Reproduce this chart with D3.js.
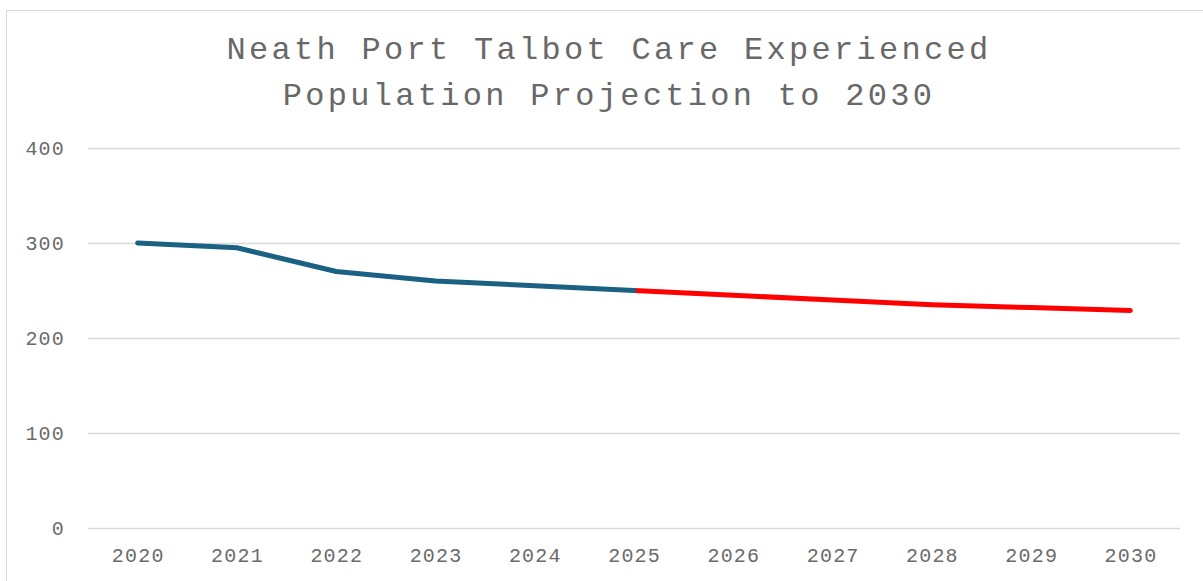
<!DOCTYPE html>
<html>
<head>
<meta charset="utf-8">
<script src="https://cdn.jsdelivr.net/npm/d3@7"></script>
<style>
    body { margin: 0; background: #fff; }
    .chart-title { font-family: "Liberation Mono", "Courier New", monospace; fill: #686868; }
    .tick-label { font-family: "Liberation Mono", "Courier New", monospace; fill: #6a6a6a; }
</style>
</head>
<body>
<svg id="chart"></svg>
<script>
const years = ['2020', '2021', '2022', '2023', '2024', '2025', '2026', '2027', '2028', '2029', '2030'];
const recorded = [300, 295, 270, 260, 255, 250];               // 2020 - 2025
const projected = [250, 245, 240, 235, 232, 229];              // 2025 - 2030
const projectedStart = 5;                                      // index of 2025
const yTicks = [0, 100, 200, 300, 400];
const titleLines = ['Neath Port Talbot Care Experienced', 'Population Projection to 2030'];

const width = 1203;
const height = 581;
const margin = {top: 148, right: 23, bottom: 53, left: 88};

const svg = d3.select('#chart')
    .attr('width', width)
    .attr('height', height);

// chart area border (runs off the right and bottom of the picture)
svg.append('rect')
    .attr('x', 6.5)
    .attr('y', 10.5)
    .attr('width', 1210)
    .attr('height', 600)
    .attr('fill', 'none')
    .attr('stroke', '#d9d9d9')
    .attr('stroke-width', 1);

let xScale = d3.scalePoint()
    .domain(years)
    .range([margin.left, width - margin.right])
    .padding(0.5);

let yScale = d3.scaleLinear()
    .domain([0, 400])
    .range([height - margin.bottom, margin.top]);

// title
svg.append('text')
    .attr('class', 'chart-title')
    .attr('text-anchor', 'middle')
    .attr('font-size', 32)
    .attr('letter-spacing', 3.3)
    .selectAll('tspan')
    .data(titleLines)
    .enter()
    .append('tspan')
    .attr('x', 609)
    .attr('y', (d, i) => 59 + i * 46)
    .text((d) => d);

// gridlines
svg.append('g')
    .selectAll('line')
    .data(yTicks)
    .enter()
    .append('line')
    .attr('x1', margin.left)
    .attr('x2', width - margin.right)
    .attr('y1', (d) => Math.round(yScale(d)) + 0.5)
    .attr('y2', (d) => Math.round(yScale(d)) + 0.5)
    .attr('stroke', '#d9d9d9')
    .attr('stroke-width', 1.5);

// y tick labels
svg.append('g')
    .selectAll('text')
    .data(yTicks)
    .enter()
    .append('text')
    .attr('class', 'tick-label')
    .attr('x', 65)
    .attr('y', (d) => yScale(d))
    .attr('dy', '0.35em')
    .attr('text-anchor', 'end')
    .attr('font-size', 20)
    .attr('letter-spacing', 1.2)
    .text((d) => d);

// x tick labels
svg.append('g')
    .selectAll('text')
    .data(years)
    .enter()
    .append('text')
    .attr('class', 'tick-label')
    .attr('x', (d) => xScale(d) + 0.6)
    .attr('y', 562)
    .attr('text-anchor', 'middle')
    .attr('font-size', 20)
    .attr('letter-spacing', 1.2)
    .text((d) => d);

let line = d3.line()
    .x((d) => xScale(d[0]))
    .y((d) => yScale(d[1]));

let recordedPts = recorded.map((v, i) => [years[i], v]);
let projectedPts = projected.map((v, i) => [years[projectedStart + i], v]);

svg.append('path')
    .datum(projectedPts)
    .attr('d', line)
    .attr('fill', 'none')
    .attr('stroke', '#ff0000')
    .attr('stroke-width', 5)
    .attr('stroke-linecap', 'round')
    .attr('stroke-linejoin', 'round');

svg.append('path')
    .datum(recordedPts)
    .attr('d', line)
    .attr('fill', 'none')
    .attr('stroke', '#1a6183')
    .attr('stroke-width', 5)
    .attr('stroke-linecap', 'round')
    .attr('stroke-linejoin', 'round');
</script>
</body>
</html>
